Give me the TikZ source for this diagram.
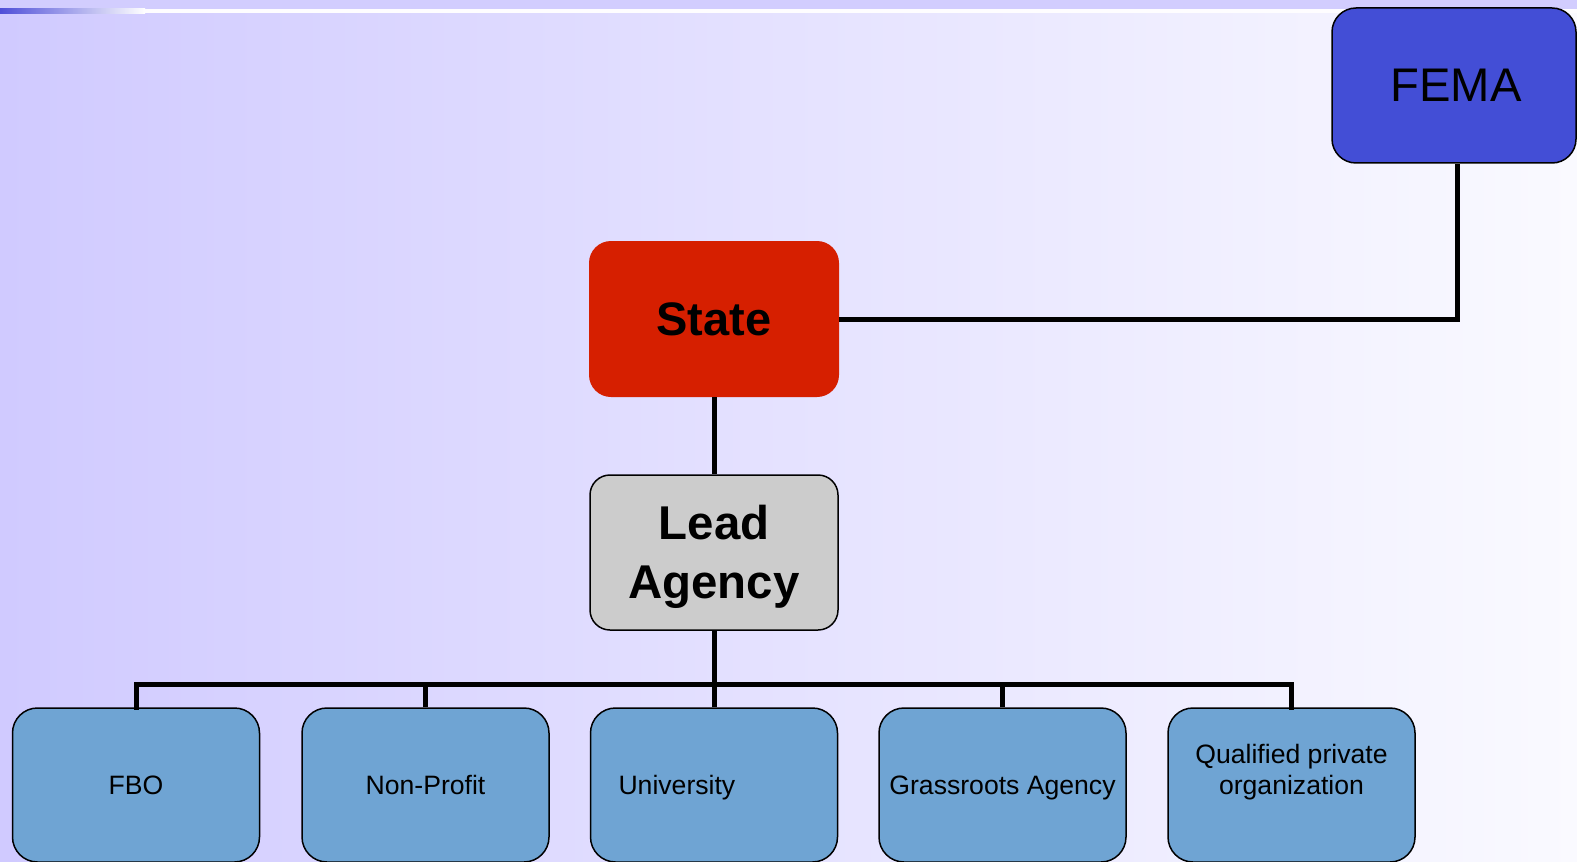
\documentclass[tikz,border=0pt]{standalone}
\usepackage{fontspec}
\setmainfont{Liberation Sans}
\definecolor{bgleft}{HTML}{D0CAFF}
\definecolor{bgright}{HTML}{FAFAFF}
\definecolor{topstrip}{HTML}{D2CDFE}
\definecolor{femablue}{HTML}{434ED6}
\definecolor{statered}{HTML}{D61F00}
\definecolor{leadgray}{HTML}{CCCCCC}
\definecolor{orgblue}{HTML}{6FA4D3}
\definecolor{barblue}{HTML}{4F4FD8}
\tikzset{
  boxbase/.style={rectangle, draw=black, line width=0.75pt, align=center, inner sep=0pt},
  femabox/.style={boxbase, fill=femablue, rounded corners=12pt, minimum width=122pt, minimum height=77.5pt, font=\fontsize{23.6}{28}\selectfont},
  statebox/.style={rectangle, fill=statered, rounded corners=11pt, minimum width=125pt, minimum height=78pt, align=center, inner sep=0pt, font=\fontsize{23.5}{28}\selectfont\bfseries},
  leadbox/.style={boxbase, fill=leadgray, rounded corners=10pt, minimum width=124pt, minimum height=77.5pt, font=\fontsize{23.7}{29.5}\selectfont\bfseries},
  orgbox/.style={boxbase, fill=orgblue, rounded corners=12.5pt, minimum width=123.5pt, minimum height=77pt, font=\fontsize{13.3}{15.5}\selectfont},
  orgsingle/.style={orgbox, text height=9.6pt, text depth=0pt},
  conn/.style={draw=black, line width=2.5pt}
}
\begin{document}
\begin{tikzpicture}[x=0.5pt,y=-0.5pt]
\useasboundingbox (0,0) rectangle (1577,861);
\clip (0,0) rectangle (1577,861);
\shade[left color=bgleft, right color=bgright] (0,0) rectangle (1577,861);
\fill[topstrip] (0,0) rectangle (1577,9);
\shade[left color=barblue, middle color=gray!40, right color=white] (0,9) rectangle (145,13.5);
\fill[white!97!topstrip] (145,9) rectangle (1577,13);

\node[femabox] (fema) at (1454,85.5) {\hspace*{2pt}FEMA};
\node[statebox] (state) at (714,319) {State};
\node[leadbox] (lead) at (714,552.5) {\raisebox{-2.5pt}[\height][\depth]{\begin{tabular}{@{}c@{}}Lead\\Agency\end{tabular}}};

\node[orgsingle] (fbo) at (136,785) {FBO};
\node[orgsingle] (np) at (425.5,785) {Non-Profit};
\node[orgsingle, text width=95.5pt, align=left] (univ) at (714,785) {University};
\node[orgsingle] (grass) at (1002.5,785) {Grassroots Agency};
\node[orgbox] (qual) at (1291.5,785) {Qualified private\\organization\\\mbox{}};

\coordinate (bus) at (714,684);
\coordinate (femafoot) at ([xshift=1.5pt]fema.south);
\draw[conn] (state.south) -- (lead.north);
\draw[conn] (state.east) -| (femafoot);
\draw[conn] (lead.south) -- (bus);
\draw[conn, line cap=rect] (fbo.north) |- (bus) -| (qual.north);
\draw[conn] (np.north) -- (np.north |- bus);
\draw[conn] (univ.north) -- (bus);
\draw[conn] (grass.north) -- (grass.north |- bus);
\end{tikzpicture}
\end{document}
